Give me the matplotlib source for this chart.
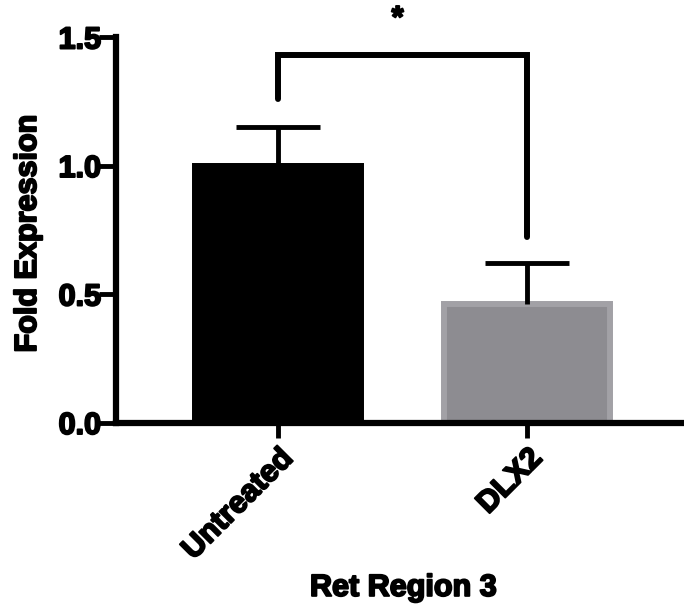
import matplotlib
matplotlib.use("Agg")
import matplotlib.pyplot as plt
import matplotlib.patheffects as pe

categories = ["Untreated", "DLX2"]
means = [1.0, 0.46]
errors = [0.15, 0.16]
bar_colors = ["#000000", "#8d8c91"]
edge_colors = ["#000000", "#a2a1a6"]
y_ticks = [0.0, 0.5, 1.0, 1.5]
y_tick_labels = ["0.0", "0.5", "1.0", "1.5"]
bracket_ys = [1.26, 1.43, 1.43, 0.72]
sig_label = "*"
star_y = 1.57

plt.rcParams["font.family"] = ["Liberation Sans", "DejaVu Sans"]
plt.rcParams["font.weight"] = "bold"

heavy = [pe.withStroke(linewidth=1.4, foreground="black")]

fig = plt.figure(figsize=(6.84, 6.15), dpi=100)
ax = fig.add_axes([0.1703, 0.313, 0.8297, 0.6268])

x = list(range(len(categories)))
ax.bar(x, means, width=0.67, color=bar_colors, edgecolor=edge_colors,
       linewidth=4.3, zorder=2)
tops = [m + e for m, e in zip(means, errors)]
ax.vlines(x, means, tops, color="black", lw=3.5, zorder=3)
ax.hlines(tops, [xi - 0.17 for xi in x], [xi + 0.17 for xi in x],
          color="black", lw=3.5, zorder=3)

bx = [x[0], x[0], x[1], x[1]]
ax.plot(bx, bracket_ys, color="black", lw=4.3, solid_joinstyle="miter",
        solid_capstyle="round", clip_on=False, zorder=4)
ax.text((x[0] + x[1]) / 2 - 0.02, star_y, sig_label, ha="center", va="center",
        fontsize=22, fontweight="bold", clip_on=False, path_effects=heavy)

ax.set_xlim(-0.649, 1.631)
ax.set_ylim(0, 1.5)
ax.set_yticks(y_ticks)
ax.set_yticklabels(y_tick_labels)
ax.set_xticks(x)
ax.set_xticklabels(categories, rotation=45, ha="right", va="top",
                   rotation_mode="anchor")

for s in ["top", "right"]:
    ax.spines[s].set_visible(False)
for s in ["left", "bottom"]:
    ax.spines[s].set_linewidth(4.5)
    ax.spines[s].set_capstyle("projecting")

ax.tick_params(axis="y", length=12, width=3.5, pad=-1, labelsize=22)
ax.tick_params(axis="x", length=11, width=3.5, pad=4, labelsize=22)
for lab in ax.get_xticklabels() + ax.get_yticklabels():
    lab.set_fontweight("bold")
    lab.set_path_effects(heavy)

ax.set_ylabel("Fold Expression", fontsize=22, fontweight="bold", va="center",
              path_effects=heavy)
ax.yaxis.set_label_coords(-0.156, 0.49)
ax.set_xlabel("Ret Region 3", fontsize=22, fontweight="bold", va="center",
              path_effects=heavy)
ax.xaxis.set_label_coords(0.505, -0.429)

fig.savefig("out.png", dpi=100)
